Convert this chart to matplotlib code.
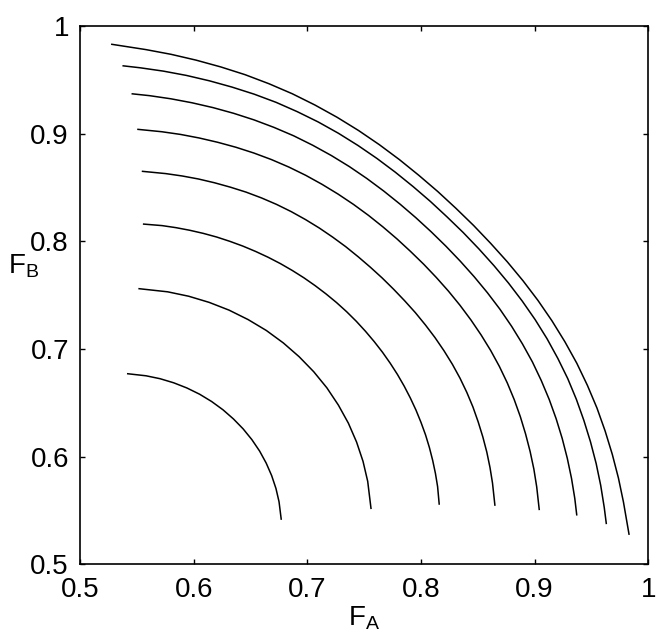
import matplotlib

matplotlib.use("Agg")
import matplotlib.pyplot as plt

plt.rcParams["font.family"] = ["Liberation Sans", "DejaVu Sans"]

# F_A / F_B pairs, one list pair per curve (outer to inner)
curve1_fa = [0.528, 0.5579, 0.5801, 0.6021, 0.6238, 0.6452, 0.6662, 0.6867,
             0.7067, 0.7262, 0.7451, 0.7633, 0.7810, 0.7981, 0.8147, 0.8307,
             0.8463, 0.8613, 0.8759, 0.8898, 0.9029, 0.9152, 0.9266, 0.9371,
             0.9464, 0.9548, 0.9620, 0.9683, 0.9737, 0.9781, 0.983]
curve1_fb = [0.983, 0.9781, 0.9737, 0.9683, 0.9620, 0.9548, 0.9464, 0.9371,
             0.9266, 0.9152, 0.9029, 0.8898, 0.8759, 0.8613, 0.8463, 0.8307,
             0.8147, 0.7981, 0.7810, 0.7633, 0.7451, 0.7262, 0.7067, 0.6867,
             0.6662, 0.6452, 0.6238, 0.6021, 0.5801, 0.5579, 0.528]

curve2_fa = [0.538, 0.5529, 0.5733, 0.5936, 0.6138, 0.6336, 0.6532, 0.6725,
             0.6912, 0.7095, 0.7273, 0.7446, 0.7612, 0.7774, 0.7930, 0.8082,
             0.8228, 0.8371, 0.8509, 0.8642, 0.8770, 0.8890, 0.9004, 0.9109,
             0.9204, 0.9291, 0.9367, 0.9433, 0.9491, 0.9541, 0.9581, 0.9612,
             0.963]
curve2_fb = [0.963, 0.9612, 0.9581, 0.9541, 0.9491, 0.9433, 0.9367, 0.9291,
             0.9204, 0.9109, 0.9004, 0.8890, 0.8770, 0.8642, 0.8509, 0.8371,
             0.8228, 0.8082, 0.7930, 0.7774, 0.7612, 0.7446, 0.7273, 0.7095,
             0.6912, 0.6725, 0.6532, 0.6336, 0.6138, 0.5936, 0.5733, 0.5529,
             0.538]

curve3_fa = [0.546, 0.5612, 0.5799, 0.5985, 0.6170, 0.6352, 0.6531, 0.6707,
             0.6880, 0.7048, 0.7211, 0.7370, 0.7523, 0.7671, 0.7815, 0.7954,
             0.8089, 0.8220, 0.8346, 0.8468, 0.8584, 0.8694, 0.8797, 0.8892,
             0.8980, 0.9058, 0.9128, 0.9189, 0.9242, 0.9287, 0.9324, 0.9353,
             0.937]
curve3_fb = [0.937, 0.9353, 0.9324, 0.9287, 0.9242, 0.9189, 0.9128, 0.9058,
             0.8980, 0.8892, 0.8797, 0.8694, 0.8584, 0.8468, 0.8346, 0.8220,
             0.8089, 0.7954, 0.7815, 0.7671, 0.7523, 0.7370, 0.7211, 0.7048,
             0.6880, 0.6707, 0.6531, 0.6352, 0.6170, 0.5985, 0.5799, 0.5612,
             0.546]

curve4_fa = [0.551, 0.5719, 0.5884, 0.6048, 0.6211, 0.6371, 0.6530, 0.6685,
             0.6837, 0.6986, 0.7130, 0.7270, 0.7406, 0.7538, 0.7665, 0.7788,
             0.7907, 0.8023, 0.8134, 0.8241, 0.8343, 0.8439, 0.8529, 0.8613,
             0.8690, 0.8759, 0.8820, 0.8874, 0.8920, 0.8960, 0.8993, 0.9018,
             0.904]
curve4_fb = [0.904, 0.9018, 0.8993, 0.8960, 0.8920, 0.8874, 0.8820, 0.8759,
             0.8690, 0.8613, 0.8529, 0.8439, 0.8343, 0.8241, 0.8134, 0.8023,
             0.7907, 0.7788, 0.7665, 0.7538, 0.7406, 0.7270, 0.7130, 0.6986,
             0.6837, 0.6685, 0.6530, 0.6371, 0.6211, 0.6048, 0.5884, 0.5719,
             0.551]

curve5_fa = [0.555, 0.5755, 0.5899, 0.6042, 0.6183, 0.6323, 0.6461, 0.6597,
             0.6729, 0.6858, 0.6984, 0.7106, 0.7223, 0.7338, 0.7448, 0.7555,
             0.7659, 0.7759, 0.7856, 0.7950, 0.8039, 0.8123, 0.8202, 0.8276,
             0.8343, 0.8403, 0.8457, 0.8503, 0.8544, 0.8579, 0.8607, 0.8629,
             0.865]
curve5_fb = [0.865, 0.8629, 0.8607, 0.8579, 0.8544, 0.8503, 0.8457, 0.8403,
             0.8343, 0.8276, 0.8202, 0.8123, 0.8039, 0.7950, 0.7856, 0.7759,
             0.7659, 0.7555, 0.7448, 0.7338, 0.7223, 0.7106, 0.6984, 0.6858,
             0.6729, 0.6597, 0.6461, 0.6323, 0.6183, 0.6042, 0.5899, 0.5755,
             0.555]

curve6_fa = [0.556, 0.5722, 0.5844, 0.5964, 0.6084, 0.6202, 0.6318, 0.6432,
             0.6545, 0.6655, 0.6763, 0.6868, 0.6970, 0.7069, 0.7165, 0.7257,
             0.7346, 0.7431, 0.7511, 0.7588, 0.7661, 0.7729, 0.7793, 0.7852,
             0.7906, 0.7956, 0.8000, 0.8040, 0.8074, 0.8103, 0.8127, 0.8146,
             0.816]
curve6_fb = [0.816, 0.8146, 0.8127, 0.8103, 0.8074, 0.8040, 0.8000, 0.7956,
             0.7906, 0.7852, 0.7793, 0.7729, 0.7661, 0.7588, 0.7511, 0.7431,
             0.7346, 0.7257, 0.7165, 0.7069, 0.6970, 0.6868, 0.6763, 0.6655,
             0.6545, 0.6432, 0.6318, 0.6202, 0.6084, 0.5964, 0.5844, 0.5722,
             0.556]

curve7_fa = [0.552, 0.5771, 0.5956, 0.6136, 0.6311, 0.6479, 0.6639, 0.6789,
             0.6928, 0.7056, 0.7172, 0.7273, 0.7361, 0.7433, 0.7490, 0.7531,
             0.756]
curve7_fb = [0.756, 0.7531, 0.7490, 0.7433, 0.7361, 0.7273, 0.7172, 0.7056,
             0.6928, 0.6789, 0.6639, 0.6479, 0.6311, 0.6136, 0.5956, 0.5771,
             0.552]

curve8_fa = [0.542, 0.5581, 0.5704, 0.5824, 0.5940, 0.6052, 0.6158, 0.6258,
             0.6350, 0.6435, 0.6512, 0.6580, 0.6638, 0.6686, 0.6724, 0.6751,
             0.677]
curve8_fb = [0.677, 0.6751, 0.6724, 0.6686, 0.6638, 0.6580, 0.6512, 0.6435,
             0.6350, 0.6258, 0.6158, 0.6052, 0.5940, 0.5824, 0.5704, 0.5581,
             0.542]

curves = [
    (curve1_fa, curve1_fb),
    (curve2_fa, curve2_fb),
    (curve3_fa, curve3_fb),
    (curve4_fa, curve4_fb),
    (curve5_fa, curve5_fb),
    (curve6_fa, curve6_fb),
    (curve7_fa, curve7_fb),
    (curve8_fa, curve8_fb),
]

tick_values = [0.5, 0.6, 0.7, 0.8, 0.9, 1.0]
tick_labels = ["0.5", "0.6", "0.7", "0.8", "0.9", "1"]

fig = plt.figure(figsize=(6.64, 6.39), dpi=100)
ax = fig.add_axes([0.1205, 0.1169, 0.8559, 0.8424])

for fa, fb in curves:
    ax.plot(fa, fb, color="black", linewidth=1.1, solid_joinstyle="round")

ax.set_xlim(0.5, 1.0)
ax.set_ylim(0.5, 1.0)
ax.set_xticks(tick_values)
ax.set_xticklabels(tick_labels)
ax.set_yticks(tick_values)
ax.set_yticklabels(tick_labels)

ax.tick_params(
    direction="in",
    top=True,
    right=True,
    length=3.6,
    width=1.0,
    labelsize=20,
)
ax.tick_params(axis="x", pad=9)
ax.tick_params(axis="y", pad=8)
for spine in ax.spines.values():
    spine.set_linewidth(1.2)

ax.set_xlabel(r"$\mathregular{F_A}$", fontsize=20, labelpad=1)
ax.set_ylabel(r"$\mathregular{F_B}$", fontsize=20, rotation=0)
ax.yaxis.set_label_coords(-0.1, 0.528)

fig.savefig("out.png", dpi=100)
plt.close(fig)
